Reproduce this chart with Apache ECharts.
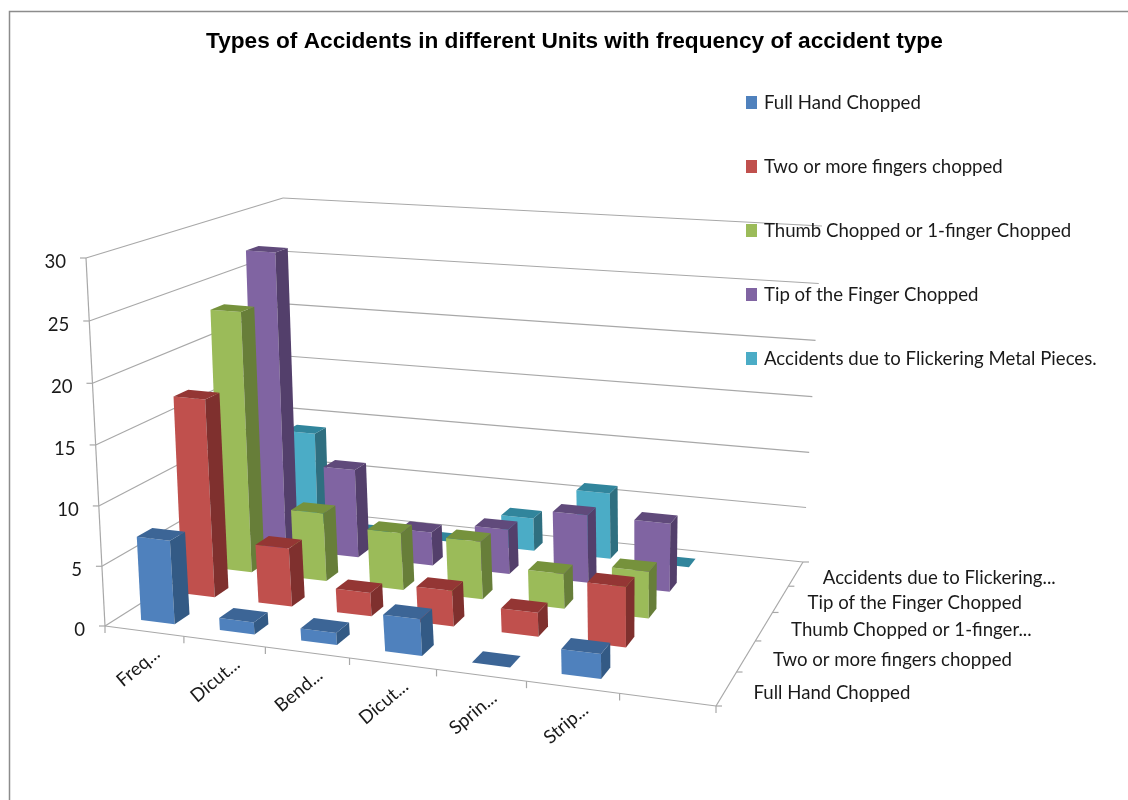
<!DOCTYPE html>
<html lang="en">
<head>
  <meta charset="UTF-8">
  <title>Types of Accidents</title>
  <script src="https://cdn.jsdelivr.net/npm/echarts@6/dist/echarts.min.js"></script>
  <style>
    html, body { margin: 0; height: 100%; background: #fff; }
    #chart { width: 1128px; height: 800px; }
  </style>
</head>
<body>
  <div id="chart"></div>
  <script>
    // last category is empty in the original sheet, it has a slot but no label
    var units = ['Freq...', 'Dicut...', 'Bend...', 'Dicut...', 'Sprin...', 'Strip...', ''];
    var accidentTypes = ['Full Hand Chopped', 'Two or more fingers chopped', 'Thumb Chopped or 1-finger Chopped', 'Tip of the Finger Chopped', 'Accidents due to Flickering Metal Pieces.'];
    var depthLabels = ['Full Hand Chopped', 'Two or more fingers chopped', 'Thumb Chopped or 1-finger...', 'Tip of the Finger Chopped', 'Accidents due to Flickering...'];
    var yTicks = [0, 5, 10, 15, 20, 25, 30];

    var fullHand = [7, 1, 1, 3, 0, 2];
    var twoFingers = [17, 5, 2, 3, 2, 5];
    var thumbFinger = [23, 6, 5, 5, 3, 4];
    var fingerTip = [27, 8, 3, 4, 6, 6];
    var flickering = [9, 0, 0, 3, 6, 0];

    // front, side, top
    var colors = [
      ['#4f81bd', '#335a85', '#3c6596'],
      ['#c0504d', '#7f302e', '#943634'],
      ['#9bbb59', '#677e39', '#76923c'],
      ['#8064a2', '#533f6b', '#604a7b'],
      ['#4bacc6', '#2f6f80', '#31859c']
    ];
    var seriesValues = [fullHand, twoFingers, thumbFinger, fingerTip, flickering];

    // hidden flat grid, only used for its scales
    var G = { left: 100, top: 100, width: 600, height: 600 };
    // corners of the 3d box: front left, front right, back right, back left
    var floorQuad = [[105, 626], [716, 706], [803, 562], [290, 509]];
    var topQuad = [[86, 258], [733, 311], [822, 226], [283, 198]];
    var barShareU = 0.43, barShareV = 0.36;
    var heightPersp = -0.0315;   // upper part of the walls is slightly closer

    // square to quad homography
    function makeQuad(q) {
      var dx1 = q[1][0] - q[2][0], dx2 = q[3][0] - q[2][0], sx = q[0][0] - q[1][0] + q[2][0] - q[3][0];
      var dy1 = q[1][1] - q[2][1], dy2 = q[3][1] - q[2][1], sy = q[0][1] - q[1][1] + q[2][1] - q[3][1];
      var den = dx1 * dy2 - dx2 * dy1;
      var g = (sx * dy2 - dx2 * sy) / den, h = (dx1 * sy - sx * dy1) / den;
      var a = q[1][0] - q[0][0] + g * q[1][0], b = q[3][0] - q[0][0] + h * q[3][0];
      var d = q[1][1] - q[0][1] + g * q[1][1], e = q[3][1] - q[0][1] + h * q[3][1];
      return function (u, v) {
        var w = g * u + h * v + 1;
        return [(a * u + b * v + q[0][0]) / w, (d * u + e * v + q[0][1]) / w];
      };
    }
    var floorMap = makeQuad(floorQuad), topMap = makeQuad(topQuad);

    function project(u, v, z) {
      var a = floorMap(u, v), b = topMap(u, v);
      var t = z * (1 + heightPersp) / (1 + heightPersp * z);
      return [a[0] + (b[0] - a[0]) * t, a[1] + (b[1] - a[1]) * t];
    }

    function renderBar(depth) {
      return function (params, api) {
        var p = api.coord([api.value(0), api.value(1)]);
        var u = (p[0] - G.left) / G.width;
        var z = (G.top + G.height - p[1]) / G.height;
        var hw = api.size([1, 0])[0] / G.width * barShareU / 2;
        var hd = barShareV / accidentTypes.length / 2;
        var v = (depth + 0.5) / accidentTypes.length;
        var u0 = u - hw, u1 = u + hw, v0 = v - hd, v1 = v + hd;
        var c = colors[depth];
        function face(points, fill) {
          return { type: 'polygon', shape: { points: points }, style: { fill: fill } };
        }
        var children = [];
        if (z > 0) {
          children.push(face([project(u0, v0, 0), project(u1, v0, 0), project(u1, v0, z), project(u0, v0, z)], c[0]));
          children.push(face([project(u1, v0, 0), project(u1, v1, 0), project(u1, v1, z), project(u1, v0, z)], c[1]));
        }
        children.push(face([project(u0, v0, z), project(u1, v0, z), project(u1, v1, z), project(u0, v1, z)], c[2]));
        return { type: 'group', children: children };
      };
    }

    function line(a, b) {
      return { type: 'line', shape: { x1: a[0], y1: a[1], x2: b[0], y2: b[1] }, style: { stroke: '#a8a8a8', lineWidth: 1.2 } };
    }
    function label(text, pos, align, rotation) {
      return {
        type: 'text', x: pos[0], y: pos[1], rotation: rotation || 0,
        style: { text: text, fill: '#1a1a1a', font: '18.6px Lato', align: align, verticalAlign: 'middle' }
      };
    }

    // walls, floor edges, ticks and labels
    var frame = [];
    yTicks.forEach(function (t) {
      var z = t / 30;
      var a = project(0, 0, z), b = project(0, 1, z), c = project(1, 1, z);
      frame.push(line(a, b), line(b, c), line([a[0] - 6, a[1]], a));
      frame.push(label(String(t), [a[0] - 20, a[1] + 4], 'right'));
    });
    frame.push(line(project(0, 0, 0), project(0, 0, 1)));
    frame.push(line(project(0, 0, 0), project(1, 0, 0)), line(project(1, 0, 0), project(1, 1, 0)));
    for (var i = 0; i <= units.length; i++) {
      var tp = project(i / units.length, 0, 0);
      frame.push(line(tp, [tp[0], tp[1] + 7]));
      if (i < units.length && units[i]) {
        var cp = project((i + 0.5) / units.length, 0, 0);
        frame.push(label(units[i], [cp[0] + 13, cp[1] + 20], 'right', 40 * Math.PI / 180));
      }
    }
    for (var j = 0; j <= depthLabels.length; j++) {
      var dp = project(1, j / depthLabels.length, 0);
      frame.push(line(dp, [dp[0] + 6, dp[1]]));
      if (j < depthLabels.length) {
        var mp = project(1, (j + 0.5) / depthLabels.length, 0);
        frame.push(label(depthLabels[j], [mp[0] + 27, mp[1] + 4], 'left'));
      }
    }
    frame.push({
      type: 'polyline', shape: { points: [[9.5, 800], [9.5, 11.5], [1128, 11.5]] },
      style: { stroke: '#8c8c8c', lineWidth: 1.5, fill: null }
    });

    // back row first so front bars cover it
    var series = [];
    for (var d = accidentTypes.length - 1; d >= 0; d--) {
      series.push({
        name: accidentTypes[d],
        type: 'custom',
        renderItem: renderBar(d),
        encode: { x: 0, y: 1 },
        itemStyle: { color: colors[d][0] },
        data: seriesValues[d].map(function (val, idx) { return [idx, val]; }),
        animation: false
      });
    }

    var chart = echarts.init(document.getElementById('chart'));
    chart.setOption({
      animation: false,
      title: {
        text: 'Types of Accidents in different Units with frequency of accident type',
        left: 201, top: 25,
        textStyle: { fontFamily: 'Liberation Sans', fontWeight: 'bold', fontSize: 22.65, color: '#000' }
      },
      legend: {
        orient: 'vertical', left: 741, top: 88,
        data: accidentTypes, icon: 'rect', selectedMode: false,
        itemWidth: 11, itemHeight: 13, itemGap: 45,
        textStyle: { fontFamily: 'Lato', fontSize: 18.6, color: '#1a1a1a', padding: [0, 0, 0, 2] }
      },
      grid: G,
      xAxis: { type: 'category', data: units, show: false },
      yAxis: { type: 'value', min: 0, max: 30, interval: 5, show: false },
      graphic: { elements: frame },
      series: series
    });
  </script>
</body>
</html>
